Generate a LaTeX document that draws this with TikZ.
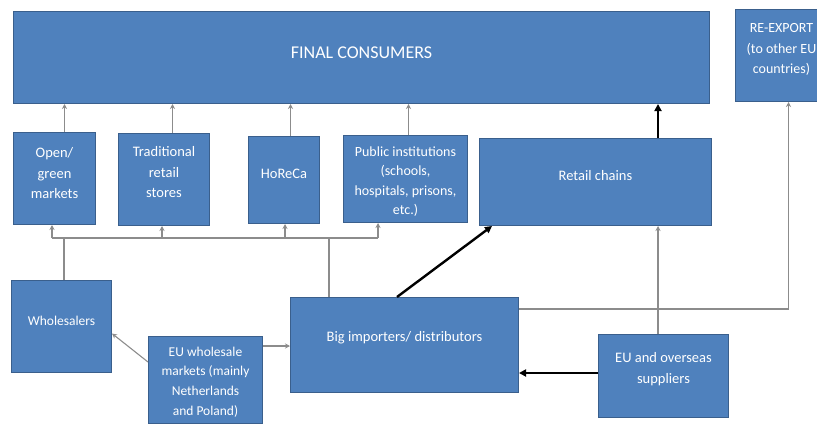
\documentclass[tikz,border=0pt]{standalone}
\usepackage{fontspec}
\setmainfont{Carlito}
\usetikzlibrary{arrows.meta}
\definecolor{boxfill}{RGB}{79,129,189}
\definecolor{boxline}{RGB}{58,95,140}
\definecolor{conn}{RGB}{140,140,140}
\tikzset{
  box/.style={draw=boxline, line width=1pt, fill=boxfill, anchor=north west, inner sep=0pt},
  txt/.style={text=white, align=center, inner sep=0pt, font=\fontsize{14.5}{20.5}\selectfont},
  thinarr/.style={draw=conn, line width=1.1pt, -{Stealth[length=5pt,width=5pt]}},
  thinline/.style={draw=conn, line width=1.1pt},
  thickarr/.style={draw=black, line width=2.4pt, -{Triangle[length=7pt,width=7pt]}}
}
\begin{document}
\begin{tikzpicture}[x=1pt,y=-1pt]
\useasboundingbox (0,0) rectangle (817,426);
\node[box, minimum width=696pt, minimum height=92pt, label={[txt, yshift=5pt, font=\fontsize{18}{22}\selectfont]center:FINAL CONSUMERS}] (fc) at (13,11) {};
\node[box, minimum width=92pt, minimum height=92pt, label={[txt, yshift=6pt, font=\fontsize{14}{20.5}\selectfont]center:RE-EXPORT\\(to other EU\\countries)}] (rex) at (735,9) {};
\node[box, minimum width=82pt, minimum height=92pt, label={[txt, yshift=5pt]center:Open/\\green\\markets}] (open) at (13,132) {};
\node[box, minimum width=91pt, minimum height=92pt, label={[txt, yshift=7pt]center:Traditional\\retail\\stores}] (trad) at (118,133) {};
\node[box, minimum width=71pt, minimum height=87pt, label={[txt, yshift=6pt]center:HoReCa}] (horeca) at (248,136) {};
\node[box, minimum width=124pt, minimum height=87pt, label={[txt, yshift=-2.5pt, font=\fontsize{14}{19.3}\selectfont]center:Public institutions\\(schools,\\hospitals, prisons,\\etc.)}] (pub) at (343,135) {};
\node[box, minimum width=232pt, minimum height=87pt, label={[txt, yshift=6pt]center:Retail chains}] (retail) at (479,138) {};
\node[box, minimum width=100pt, minimum height=92pt, label={[txt, yshift=6pt, font=\fontsize{13.5}{20}\selectfont]center:Wholesalers}] (whole) at (11,280) {};
\node[box, minimum width=114pt, minimum height=87pt, label={[txt, yshift=-2pt, font=\fontsize{13.5}{19.7}\selectfont]center:EU wholesale\\markets (mainly\\Netherlands\\and Poland)}] (euw) at (148,336) {};
\node[box, minimum width=228pt, minimum height=95pt, label={[txt, yshift=7pt]center:Big importers/ distributors}] (big) at (290,297) {};
\node[box, minimum width=130pt, minimum height=83pt, label={[txt, yshift=7pt]center:EU and overseas\\suppliers}] (eus) at (598,334) {};

% arrows to final consumers
\draw[thinarr] ([xshift=10pt]open.north) -- ([xshift=10pt]open.north |- fc.south);
\draw[thinarr] ([xshift=8.5pt]trad.north) -- ([xshift=8.5pt]trad.north |- fc.south);
\draw[thinarr] ([xshift=6.5pt]horeca.north) -- ([xshift=6.5pt]horeca.north |- fc.south);
\draw[thinarr] ([xshift=3pt]pub.north) -- ([xshift=3pt]pub.north |- fc.south);
\coordinate (x658) at (658,0);
\draw[thickarr] (x658 |- retail.north) -- (x658 |- fc.south);

% bus
\coordinate (b1) at (52,238);
\coordinate (b2) at (162,238);
\coordinate (b3) at (285,238);
\coordinate (b4) at (378,238);
\draw[thinline] (b1) -- (b4);
\draw[thinarr] (b1) -- (b1 |- open.south);
\draw[thinarr] (b2) -- (b2 |- trad.south);
\draw[thinarr] (b3) -- (b3 |- horeca.south);
\draw[thinarr] (b4) -- (b4 |- pub.south);
\coordinate (x64) at (64,238);
\coordinate (x329) at (329,238);
\draw[thinline] (x64 |- whole.north) -- (x64);
\draw[thinline] (x329 |- big.north) -- (x329);

% EU wholesale markets
\draw[thinarr] ([yshift=-26pt]euw.north west) -- ([yshift=-7pt]whole.east);
\coordinate (y346) at (0,346);
\draw[thinarr] (y346 -| euw.east) -- (y346 -| big.west);

% big importers to retail chains
\coordinate (x397) at (397,0);
\draw[thickarr] (x397 |- big.north) -- ([xshift=13pt]retail.south west);

% EU suppliers
\draw[thinarr] (x658 |- eus.north) -- (x658 |- retail.south);
\coordinate (y373) at (0,373);
\draw[thickarr] (y373 -| eus.west) -- (y373 -| big.east);

% re-export
\coordinate (y309) at (0,309);
\draw[thinarr] (y309 -| big.east) -| ([xshift=7pt]rex.south);
\end{tikzpicture}
\end{document}
